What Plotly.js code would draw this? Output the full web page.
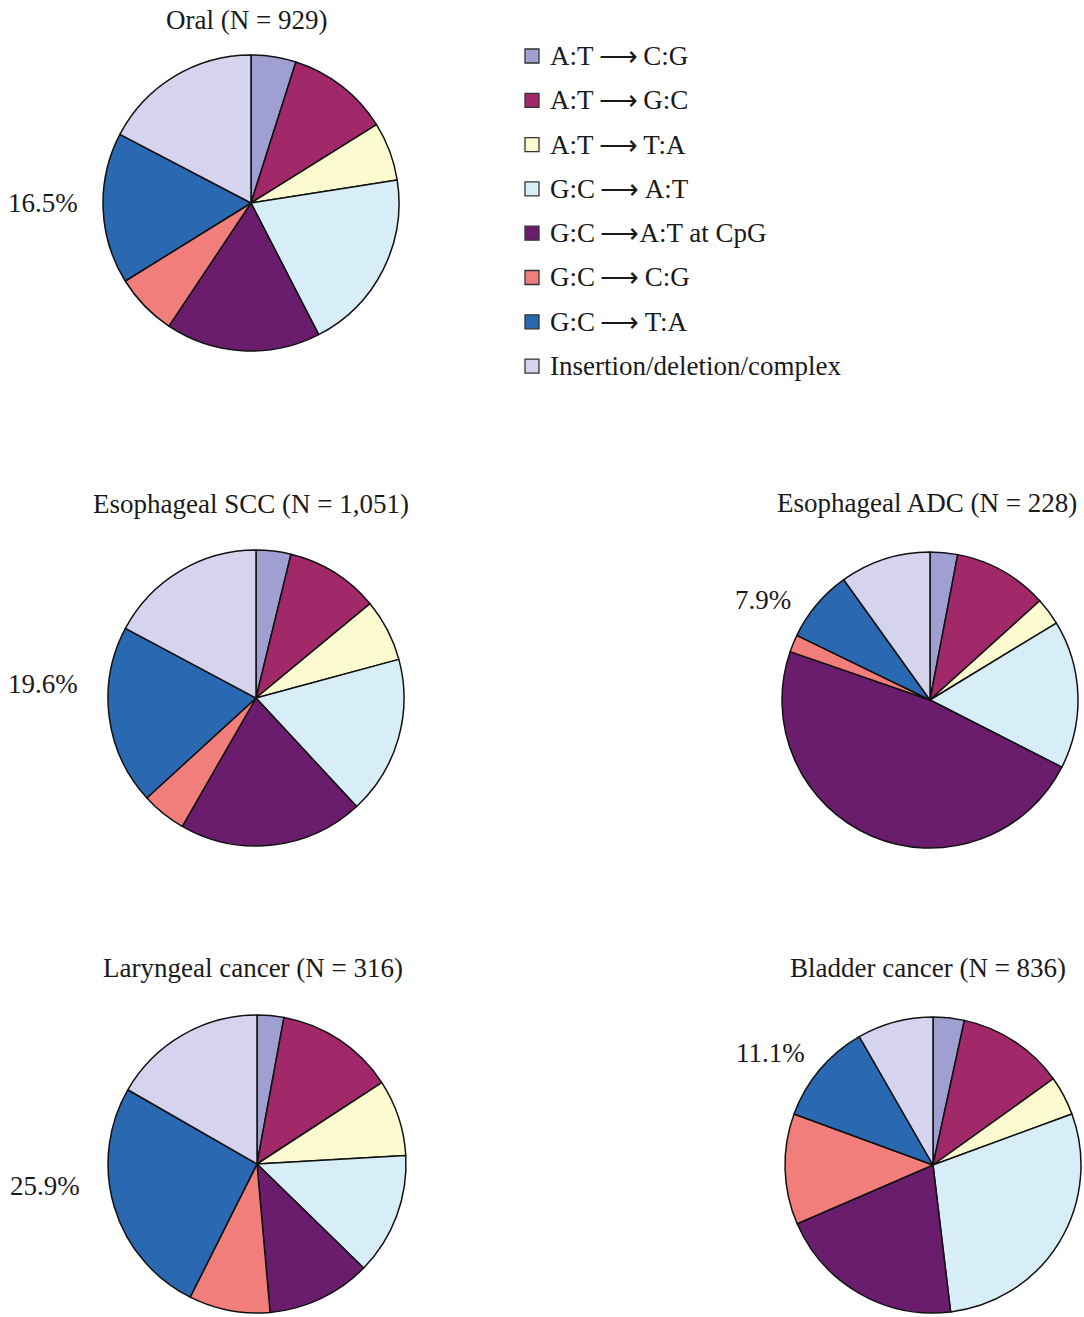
<!DOCTYPE html>
<html>
<head>
<meta charset="utf-8">
<script src="https://cdn.plot.ly/plotly-3.0.1.min.js"></script>
<style>
  html, body { margin: 0; padding: 0; background: #ffffff; }
  #chart { width: 1084px; height: 1317px; }
</style>
</head>
<body>
<div id="chart"></div>
<script>
// ---- data ----
const categories = [
  "A:T\u2009\u27F6\u2009C:G",
  "A:T\u2009\u27F6\u2009G:C",
  "A:T\u2009\u27F6\u2009T:A",
  "G:C\u2009\u27F6\u2009A:T",
  "G:C\u2009\u27F6A:T at CpG",
  "G:C\u2009\u27F6\u2009C:G",
  "G:C\u2009\u27F6\u2009T:A",
  "Insertion/deletion/complex"
];
const colors = ["#9f9fd2", "#a1296a", "#fcfbcf", "#d7eef8", "#6a1d6c", "#f27e7c", "#2b68b2", "#d6d3ee"];

const panelTitles = [
  "Oral (N = 929)",
  "Esophageal SCC (N = 1,051)",
  "Esophageal ADC (N = 228)",
  "Laryngeal cancer (N = 316)",
  "Bladder cancer (N = 836)"
];
const oral       = [4.9, 11.2, 6.4, 19.9, 16.9, 6.8, 16.5, 17.3];
const escc       = [3.8, 10.2, 6.8, 17.3, 20.2, 4.9, 19.6, 17.2];
const eadc       = [3.0, 10.3, 3.0, 16.2, 47.8, 1.9, 7.9, 9.9];
const laryngeal  = [2.9, 12.9, 8.3, 13.2, 11.3, 8.8, 25.9, 16.7];
const bladder    = [3.4, 11.7, 4.3, 28.7, 20.4, 12.1, 11.1, 8.3];
const gcTaLabels = ["16.5%", "19.6%", "7.9%", "25.9%", "11.1%"];

// ---- layout helpers (pixel geometry) ----
const W = 1084, H = 1317;
const panels = [
  {vals: oral,      cx: 251, cy: 203,  r: 148, tx: 246, ty: 20,  lx: 43, ly: 203},
  {vals: escc,      cx: 256, cy: 698,  r: 148, tx: 251, ty: 504, lx: 43, ly: 684},
  {vals: eadc,      cx: 930, cy: 700,  r: 148, tx: 927, ty: 503, lx: 763, ly: 600},
  {vals: laryngeal, cx: 257, cy: 1164, r: 149, tx: 253, ty: 968, lx: 45, ly: 1186},
  {vals: bladder,   cx: 933, cy: 1165, r: 148, tx: 928, ty: 968, lx: 770, ly: 1053}
];
const fx = px => px / W;
const fy = py => 1 - py / H;
const FONT = "Liberation Serif, Times New Roman, serif";

const traces = panels.map((p, i) => ({
  type: "pie",
  values: p.vals,
  labels: categories,
  sort: false,
  direction: "clockwise",
  rotation: 0,
  textinfo: "none",
  hoverinfo: "label+percent",
  marker: {colors: colors, line: {color: "#111111", width: 1.5}},
  domain: {x: [fx(p.cx - p.r), fx(p.cx + p.r)], y: [fy(p.cy + p.r), fy(p.cy - p.r)]},
  showlegend: false,
  name: panelTitles[i]
}));

const annotations = [];
const shapes = [];
panels.forEach((p, i) => {
  annotations.push({
    xref: "paper", yref: "paper", x: fx(p.tx), y: fy(p.ty),
    text: panelTitles[i], showarrow: false, xanchor: "center", yanchor: "middle",
    font: {family: FONT, size: 27, color: "#1a1a1a"}
  });
  annotations.push({
    xref: "paper", yref: "paper", x: fx(p.lx), y: fy(p.ly),
    text: gcTaLabels[i], showarrow: false, xanchor: "center", yanchor: "middle",
    font: {family: FONT, size: 27, color: "#1a1a1a"}
  });
});

// manual legend
const legX = 525, legY0 = 56, legStep = 44.3, sw = 14;
categories.forEach((c, i) => {
  const y = legY0 + i * legStep;
  shapes.push({
    type: "rect", xref: "paper", yref: "paper",
    x0: fx(legX), x1: fx(legX + sw), y0: fy(y + sw / 2), y1: fy(y - sw / 2),
    fillcolor: colors[i], line: {color: "#333333", width: 1.3}
  });
  annotations.push({
    xref: "paper", yref: "paper", x: fx(legX + 23), y: fy(y),
    text: c, showarrow: false, xanchor: "left", yanchor: "middle",
    font: {family: FONT, size: 27, color: "#1a1a1a"}
  });
});

const layout = {
  width: W, height: H,
  margin: {l: 0, r: 0, t: 0, b: 0},
  paper_bgcolor: "#ffffff",
  plot_bgcolor: "#ffffff",
  showlegend: false,
  annotations: annotations,
  shapes: shapes
};

Plotly.newPlot("chart", traces, layout, {displayModeBar: false, staticPlot: true});
</script>
</body>
</html>
